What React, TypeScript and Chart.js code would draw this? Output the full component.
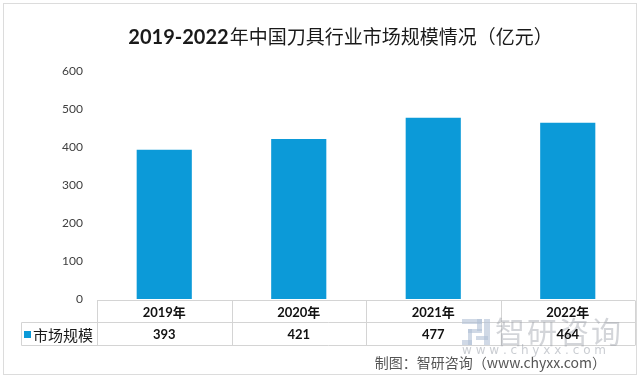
import React, { useEffect, useRef } from "react";
import { Chart, registerables } from "chart.js";

Chart.register(...registerables);

const TITLE_NUM = "2019-2022";
const TITLE_CN = "年中国刀具行业市场规模情况（亿元）";
const categories = ["2019年", "2020年", "2021年", "2022年"];
const seriesName = "市场规模";
const values = [393, 421, 477, 464];
const yTicks = [0, 100, 200, 300, 400, 500, 600];
const credit = "制图：智研咨询（www.chyxx.com）";
const wmText = "智研咨询";
const wmUrl = "w w w . c h y x x . c o m";

const BAR_COLOR = "#0c9ad8";
const LINE_COLOR = "#d4d4d4";

const decorPlugin = {
  id: "decor",
  afterDraw(chart: any) {
    const ctx = chart.ctx as CanvasRenderingContext2D;
    const xs = chart.scales.x;
    const area = chart.chartArea;
    ctx.save();
    // outer border
    ctx.strokeStyle = "#dcdcdc";
    ctx.lineWidth = 1;
    ctx.strokeRect(3.5, 3.5, 633, 371);

    // title
    ctx.textBaseline = "middle";
    ctx.fillStyle = "#1a1a1a";
    const fNum = "bold 20px Lato, 'Liberation Sans', sans-serif";
    const fCn = "19px 'Noto Sans CJK SC', sans-serif";
    ctx.font = fNum;
    const w1 = ctx.measureText(TITLE_NUM).width;
    ctx.font = fCn;
    const w2 = ctx.measureText(TITLE_CN).width;
    const tx = 340 - (w1 + w2) / 2;
    ctx.font = fNum;
    ctx.textAlign = "left";
    ctx.fillText(TITLE_NUM, tx, 38);
    ctx.font = fCn;
    ctx.fillText(TITLE_CN, tx + w1 + 1, 37);

    // table
    const n = categories.length;
    const catW = n > 1 ? xs.getPixelForValue(1) - xs.getPixelForValue(0) : area.right - area.left;
    const edges: number[] = [];
    for (let i = 0; i < n; i++) edges.push(xs.getPixelForValue(i) - catW / 2);
    edges.push(xs.getPixelForValue(n - 1) + catW / 2);
    const y0 = Math.round(area.bottom) + 1.5;
    const y1 = y0 + 22;
    const y2 = y1 + 23;
    const legLeft = 21.5;
    ctx.strokeStyle = LINE_COLOR;
    ctx.beginPath();
    ctx.moveTo(edges[0], y0);
    ctx.lineTo(edges[n], y0);
    ctx.moveTo(legLeft, y1);
    ctx.lineTo(edges[n], y1);
    ctx.moveTo(legLeft, y2);
    ctx.lineTo(edges[n], y2);
    ctx.moveTo(legLeft, y1);
    ctx.lineTo(legLeft, y2);
    for (let i = 0; i <= n; i++) {
      const x = Math.round(edges[i]) + 0.5;
      ctx.moveTo(x, y0);
      ctx.lineTo(x, y2);
    }
    ctx.stroke();

    // watermark
    ctx.fillStyle = "rgba(176,192,214,0.6)";
    ctx.fillRect(462, 319, 20, 5);
    ctx.fillRect(477, 319, 5, 12);
    ctx.fillRect(468, 329, 14, 4);
    ctx.fillRect(468, 329, 4, 16);
    ctx.fillRect(462, 340, 10, 5);
    ctx.fillRect(476, 336, 12, 4);
    ctx.fillRect(484, 319, 6, 26);
    ctx.fillStyle = "rgba(150,155,165,0.42)";
    ctx.font = "30px 'Noto Sans CJK SC', sans-serif";
    ctx.textAlign = "left";
    ctx.textBaseline = "middle";
    let wx = 495;
    for (const ch of wmText) {
      ctx.fillText(ch, wx, 332);
      wx += 32;
    }
    ctx.fillStyle = "rgba(150,155,165,0.5)";
    ctx.font = "12px 'DejaVu Sans', sans-serif";
    ctx.fillText(wmUrl, 462, 351);

    // header + values
    ctx.fillStyle = "#111";
    ctx.textAlign = "center";
    for (let i = 0; i < n; i++) {
      const cx = xs.getPixelForValue(i);
      ctx.font = "bold 13px Lato, 'Noto Sans CJK SC', sans-serif";
      ctx.fillText(categories[i], cx, (y0 + y1) / 2 + 1);
      ctx.font = "bold 13px Lato, sans-serif";
      ctx.fillText(String(values[i]), cx, (y1 + y2) / 2 + 1);
    }
    // legend cell
    ctx.fillStyle = BAR_COLOR;
    ctx.fillRect(24, 331, 7, 7);
    ctx.fillStyle = "#1a1a1a";
    ctx.textAlign = "left";
    ctx.font = "15px 'Noto Sans CJK SC', sans-serif";
    ctx.fillText(seriesName, 33, (y1 + y2) / 2 + 1);

    // credit
    ctx.fillStyle = "#555";
    ctx.textAlign = "right";
    ctx.font = "14px 'Noto Sans CJK SC', sans-serif";
    ctx.fillText(credit, 606, 363);
    ctx.restore();
  },
};

export default function App() {
  const ref = useRef<HTMLCanvasElement | null>(null);
  useEffect(() => {
    document.body.style.margin = "0";
    if (!ref.current) return;
    const chart = new Chart(ref.current, {
      type: "bar",
      data: {
        labels: categories,
        datasets: [
          {
            label: seriesName,
            data: values,
            backgroundColor: BAR_COLOR,
            categoryPercentage: 1,
            barPercentage: 0.41,
          },
        ],
      },
      options: {
        responsive: false,
        animation: false,
        layout: { padding: { top: 71, right: 5, bottom: 80, left: 0 } },
        plugins: { legend: { display: false }, title: { display: false }, tooltip: { enabled: false } },
        scales: {
          x: { display: false },
          y: {
            min: yTicks[0],
            max: yTicks[yTicks.length - 1],
            afterFit: (s: any) => {
              s.width = 97;
            },
            afterBuildTicks: (s: any) => {
              s.ticks = yTicks.map((v) => ({ value: v }));
            },
            grid: { display: false, drawTicks: false },
            border: { display: false },
            ticks: {
              padding: 14,
              color: "#404040",
              font: { family: "Lato, 'Liberation Sans', sans-serif", size: 12 },
            },
          },
        },
      },
      plugins: [decorPlugin],
    });
    return () => chart.destroy();
  }, []);
  return (
    <div style={{ width: 640, height: 379, background: "#fff" }}>
      <canvas ref={ref} width={640} height={379} />
    </div>
  );
}
